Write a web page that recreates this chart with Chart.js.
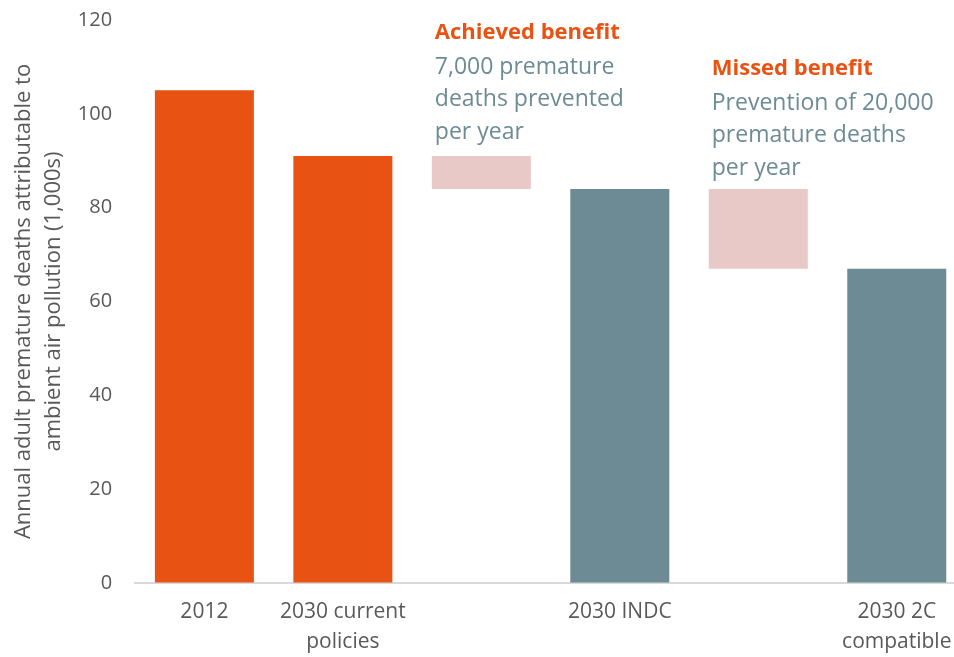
<!DOCTYPE html>
<html>
<head>
<meta charset="utf-8">
<script src="https://cdn.jsdelivr.net/npm/chart.js@4"></script>
<style>
  html, body { margin: 0; padding: 0; background: #fff; overflow: hidden; }
  #wrap { position: relative; width: 966px; height: 657px; }
</style>
</head>
<body>
<div id="wrap"><canvas id="chart"></canvas></div>
<script>
// categories and values (1,000s of deaths)
const categories = [["2012"], ["2030 current", "policies"], [""], ["2030 INDC"], [""], ["2030 2C", "compatible"]];
const deaths = [105, 91, [84, 91], 84, [67, 84], 67];
const barColors = ["#E85314", "#E85314", "#E9C9C7", "#6D8B95", "#E9C9C7", "#6D8B95"];
const yTicks = [0, 20, 40, 60, 80, 100, 120];

const notes = [
    { bar: 2, title: "Achieved benefit", lines: ["7,000 premature", "deaths prevented", "per year"], top: 33 },
    { bar: 4, title: "Missed benefit", lines: ["Prevention of 20,000", "premature deaths", "per year"], top: 69 }
];

// draw the annotation text above the pink boxes
const notesPlugin = {
    id: "notes",
    afterDatasetsDraw(chart) {
        const ctx = chart.ctx;
        const meta = chart.getDatasetMeta(0);
        ctx.save();
        ctx.textBaseline = "middle";
        ctx.textAlign = "left";
        notes.forEach(n => {
            const bar = meta.data[n.bar];
            const x = bar.x - bar.width / 2 + 3;
            ctx.font = "bold 22px 'Open Sans', sans-serif";
            ctx.fillStyle = "#E85314";
            ctx.fillText(n.title, x, n.top);
            ctx.font = "23px 'Open Sans', sans-serif";
            ctx.fillStyle = "#6D8B95";
            n.lines.forEach((l, i) => ctx.fillText(l, x, n.top + 34 + 32.5 * i));
        });
        ctx.restore();
    }
};

new Chart(document.getElementById("chart"), {
    type: "bar",
    data: {
        labels: categories,
        datasets: [{
            data: deaths,
            backgroundColor: barColors,
            borderWidth: 0,
            categoryPercentage: 1,
            barPercentage: 0.715
        }]
    },
    options: {
        responsive: true,
        maintainAspectRatio: false,
        animation: false,
        layout: { padding: { top: 0, left: 6, right: 0, bottom: -14 } },
        plugins: { legend: { display: false }, tooltip: { enabled: false } },
        scales: {
            x: {
                grid: { display: false, drawTicks: false },
                border: { display: true, color: "#D9D9D9", width: 2 },
                ticks: {
                    color: "#595959",
                    font: { family: "'Open Sans', sans-serif", size: 21, lineHeight: 1.43 },
                    padding: 14,
                    maxRotation: 0,
                    autoSkip: false
                }
            },
            y: {
                min: 0,
                max: 120,
                afterBuildTicks: axis => { axis.ticks = yTicks.map(v => ({ value: v })); },
                // invisible tick marks give the gap between labels and plot
                grid: { display: true, drawOnChartArea: false, drawTicks: true, tickLength: 15, color: "rgba(0,0,0,0)" },
                border: { display: false },
                ticks: {
                    color: "#595959",
                    font: { family: "'Open Sans', sans-serif", size: 20 },
                    padding: 8
                },
                title: {
                    display: true,
                    text: ["Annual adult premature deaths attributable to", "ambient air pollution (1,000s)"],
                    color: "#595959",
                    font: { family: "'Open Sans', sans-serif", size: 22, lineHeight: 1.36 },
                    padding: { top: 3, bottom: 1 }
                }
            }
        }
    },
    plugins: [notesPlugin]
});
</script>
</body>
</html>
